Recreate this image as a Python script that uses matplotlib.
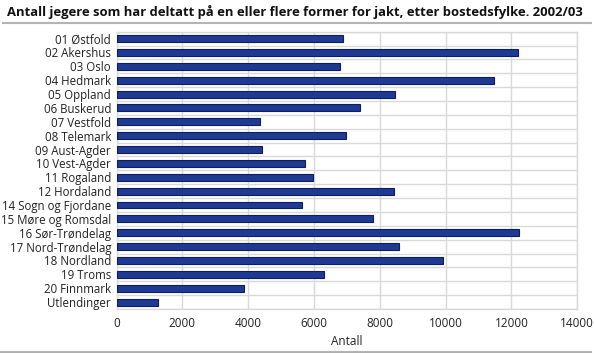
import numpy as np
import matplotlib
matplotlib.use('Agg')
import matplotlib.pyplot as plt
from matplotlib.lines import Line2D

# Data
counties = ['01 Østfold', '02 Akershus', '03 Oslo', '04 Hedmark', '05 Oppland',
            '06 Buskerud', '07 Vestfold', '08 Telemark', '09 Aust-Agder',
            '10 Vest-Agder', '11 Rogaland', '12 Hordaland', '14 Sogn og Fjordane',
            '15 Møre og Romsdal', '16 Sør-Trøndelag', '17 Nord-Trøndelag',
            '18 Nordland', '19 Troms', '20 Finnmark', 'Utlendinger']
hunters = [6870, 12210, 6780, 11480, 8450, 7410, 4350, 6970, 4410, 5720,
           5970, 8420, 5620, 7800, 12220, 8590, 9910, 6300, 3880, 1250]
xticks = [0, 2000, 4000, 6000, 8000, 10000, 12000, 14000]

title = 'Antall jegere som har deltatt på en eller flere former for jakt, etter bostedsfylke. 2002/03'

# Style
plt.rcParams['font.family'] = ['Open Sans', 'DejaVu Sans']
bar_color = '#1f3a93'
bar_edge = '#0c1e5e'
grid_color = '#d9d9d9'
text_color = '#222222'

fig = plt.figure(figsize=(5.94, 3.54), dpi=100)
ax = fig.add_axes([0.1963, 0.1271, 0.7756, 0.7834])

y = np.arange(len(counties))
ax.barh(y, hunters, height=0.5, color=bar_color, edgecolor=bar_edge, linewidth=0.8, zorder=3)

ax.set_xlim(0, 14000)
ax.set_ylim(len(counties) - 0.5, -0.5)
ax.set_xticks(xticks)
ax.set_xticklabels([str(v) for v in xticks], fontsize=8.5, color=text_color)
ax.set_yticks(y)
ax.set_yticklabels(counties, fontsize=8.3, color=text_color)
ax.set_yticks(np.arange(-0.5, len(counties), 1), minor=True)
ax.tick_params(which='both', length=0)
ax.tick_params(axis='x', pad=6)
ax.tick_params(axis='y', pad=4)

ax.grid(axis='x', which='major', color=grid_color, linewidth=1, zorder=0)
ax.grid(axis='y', which='minor', color=grid_color, linewidth=1, zorder=0)
ax.set_axisbelow(True)
for s in ax.spines.values():
    s.set_color(grid_color)
    s.set_linewidth(1)

ax.set_xlabel('Antall', fontsize=8.5, color=text_color, labelpad=3)

# title, shrunk to fit the same width as the reference (about 578 px)
t = fig.text(0.012, 0.965, title, fontsize=10, fontweight='bold', color='#111111', va='center', ha='left')
fig.canvas.draw()
w = t.get_window_extent().width
t.set_fontsize(10 * 576 / w)

# separator lines
fig.add_artist(Line2D([0.005, 0.995], [0.935, 0.935], color='#b4b4b4', linewidth=1.5, transform=fig.transFigure))
fig.add_artist(Line2D([0.0, 0.995], [0.006, 0.006], color='#b4b4b4', linewidth=1.5, transform=fig.transFigure))

fig.savefig('out.png', dpi=100)
